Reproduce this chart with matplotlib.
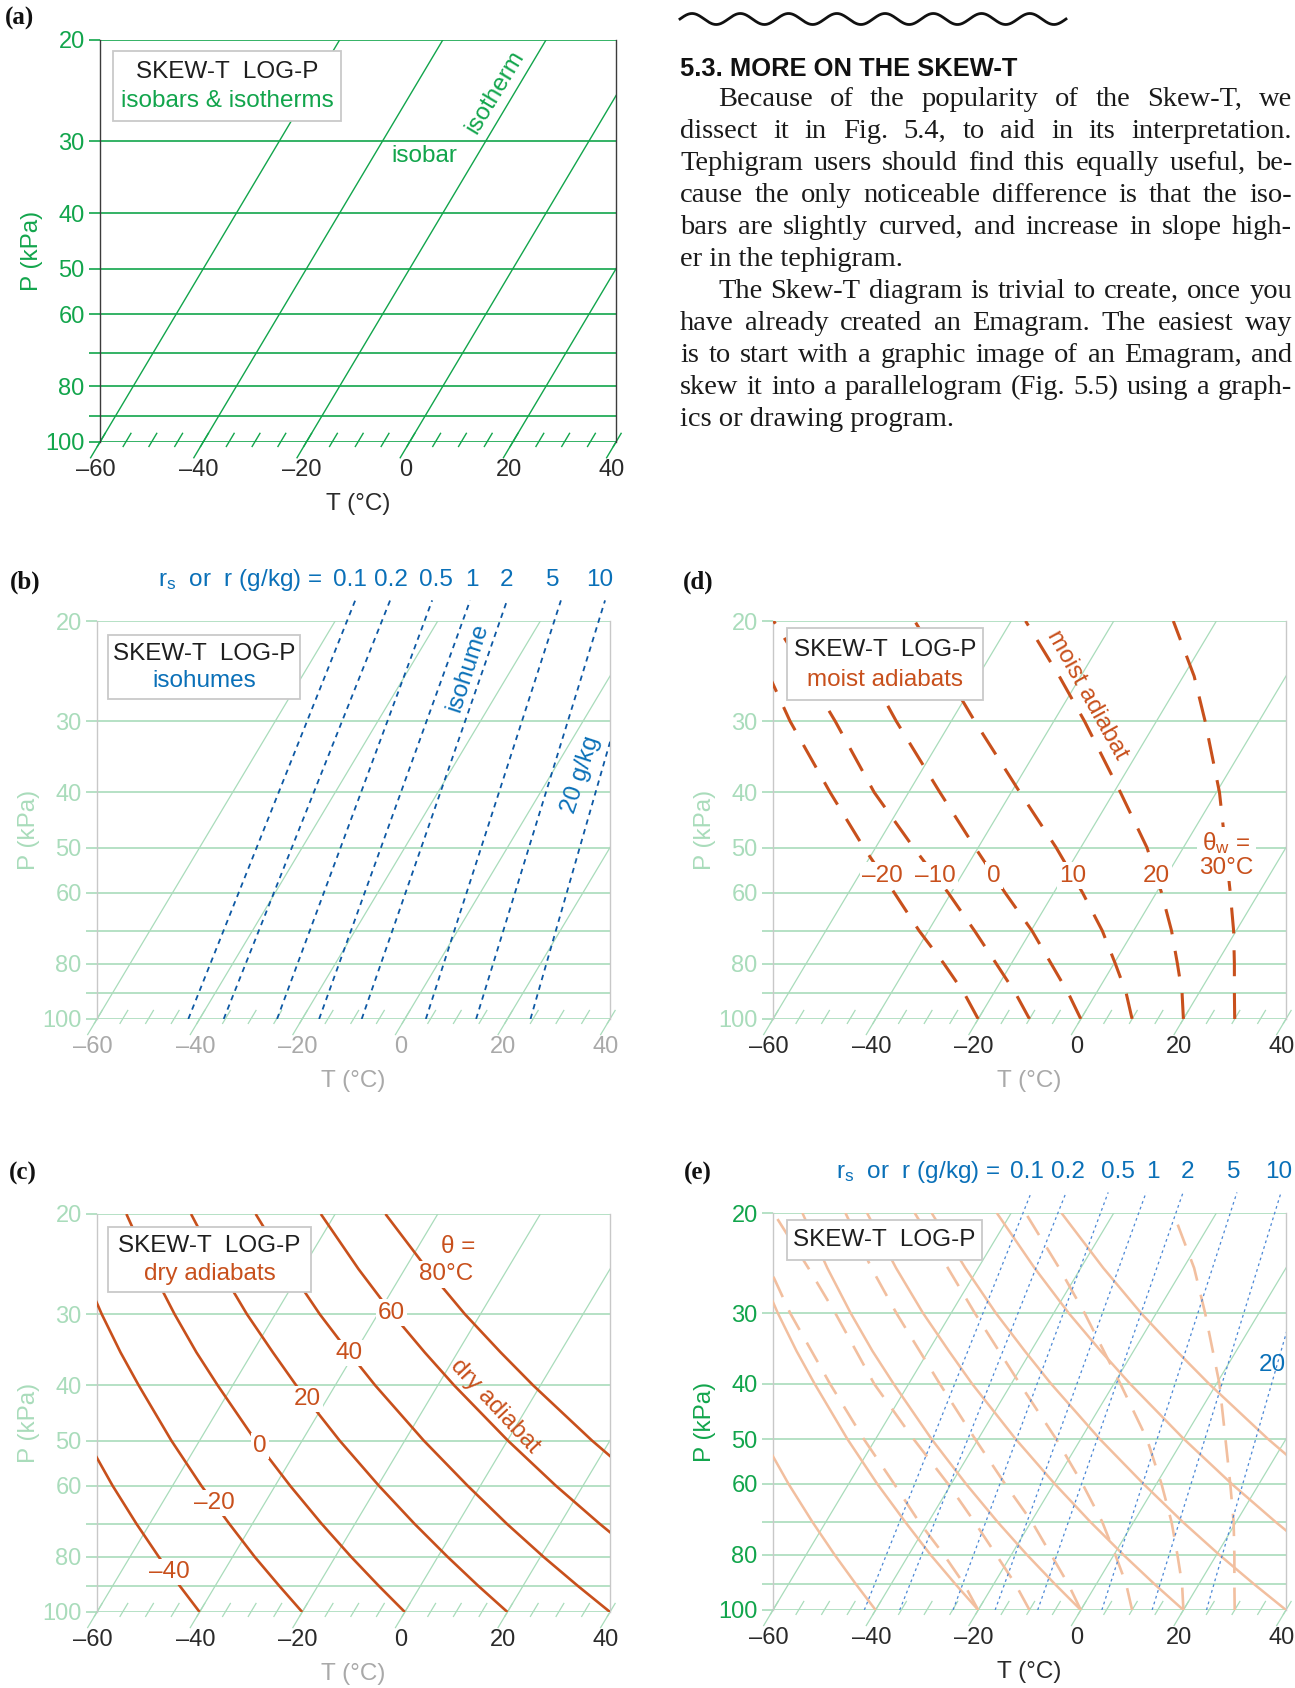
import numpy as np
import matplotlib
matplotlib.use("Agg")
import matplotlib.pyplot as plt
import matplotlib.transforms as mtransforms
from matplotlib.lines import Line2D
from matplotlib.patches import Rectangle
from matplotlib.ticker import NullLocator

plt.rcParams["font.family"] = ["Liberation Sans", "DejaVu Sans"]
plt.rcParams["mathtext.fontset"] = "custom"
plt.rcParams["mathtext.rm"] = "Liberation Sans"
plt.rcParams["mathtext.it"] = "Liberation Sans:italic"

W, H = 1295, 1688

# ---------------- values ----------------
isobars = [20, 30, 40, 50, 60, 70, 80, 90, 100]            # kPa
isobar_labels = ["20", "30", "40", "50", "60", "", "80", "", "100"]
isotherms = [-60, -40, -20, 0, 20, 40]                      # degC
isotherm_labels = ["–60", "–40", "–20", "0", "20", "40"]
tick_temps = [-60, -55, -50, -45, -40, -35, -30, -25, -20, -15, -10, -5,
              0, 5, 10, 15, 20, 25, 30, 35, 40]

# dry adiabats: T (degC) at each pressure level
dry_levels = [100, 90, 80, 70, 60, 50, 40, 35, 30, 25, 20]
dry_m40 = [-40.0, -46.9, -54.4, -62.6, -71.7, -81.9, -93.7, -100.5, -108.0, -116.3, -126.0]
dry_m20 = [-20.0, -27.5, -35.7, -44.5, -54.4, -65.5, -78.3, -85.7, -93.8, -102.9, -113.3]
dry_0 = [0.0, -8.1, -16.9, -26.5, -37.1, -49.1, -62.9, -70.9, -79.6, -89.4, -100.7]
dry_20 = [20.0, 11.3, 1.9, -8.4, -19.8, -32.7, -47.6, -56.0, -65.5, -76.0, -88.1]
dry_40 = [40.0, 30.7, 20.6, 9.6, -2.5, -16.3, -32.2, -41.2, -51.3, -62.5, -75.5]
dry_60 = [60.0, 50.1, 39.4, 27.7, 14.7, 0.1, -16.8, -26.4, -37.1, -49.0, -62.8]
dry_80 = [80.0, 69.5, 58.1, 45.8, 32.0, 16.5, -1.4, -11.6, -23.0, -35.6, -50.2]
dry_names = ["–40", "–20", "0", "20", "40", "60"]
dry_label_p = [85, 64.3, 51.1, 42.3, 35.1, 29.8]

# moist (pseudo) adiabats: T (degC) at each pressure level
moist_levels = [100, 90, 80, 70, 60, 50, 40, 30, 25, 20]
moist_m20 = [-20.0, -25.8, -33.1, -41.8, -51.1, -62.3, -75.3, -91.4, -100.7, -113.0]
moist_m10 = [-10.0, -15.8, -22.9, -31.0, -40.6, -52.6, -66.7, -82.6, -93.1, -106.3]
moist_0 = [0.0, -5.5, -12.2, -19.8, -29.5, -40.6, -53.9, -70.7, -80.8, -92.3]
moist_10 = [10.0, 5.8, 0.3, -6.1, -14.4, -24.8, -38.3, -55.4, -65.9, -78.8]
moist_20 = [20.0, 16.7, 12.4, 7.4, 1.0, -7.1, -18.7, -34.0, -44.2, -57.2]
moist_30 = [30.0, 26.9, 23.5, 19.5, 14.4, 8.2, 0.6, -10.5, -17.9, -28.4]
moist_names = ["–20", "–10", "0", "10", "20"]

# isohumes (saturation mixing ratio lines)
isohume_r = ["0.1", "0.2", "0.5", "1", "2", "5", "10", "20"]
isohume_t100 = [-42.2, -35.3, -24.9, -16.7, -8.4, 4.1, 13.9, 24.5]
isohume_ptop = 18.4
isohume_ttop = [-58.5, -51.7, -43.5, -36.1, -28.9, -18.4, -9.8, -0.9]

# header label nudges (points) so the labels do not collide
header_dx_b = [-4.0, 0.6, 2.9, 1.4, -0.2, -5.6, -4.1]
header_dx_e = [-3.3, 1.3, 6.8, 4.5, 2.9, -2.5, -1.7]

GREEN = "#12a54c"
LGREEN = "#a9dcbb"
ORANGE = "#c8501c"
SALMON = "#f2bf9f"
BLUE = "#0a70b8"
BLUE_LINE = "#0d58a4"
BLUE_DOT = "#4c88d6"
GRAY = "#a9a9a9"
DARK = "#2a2a2a"

SKEW = 0.4643   # isotherm shift over the whole height, as fraction of width
FS = 17.5
TFS = 17

fig = plt.figure(figsize=(W / 100, H / 100), dpi=100)


def fx(x):
    return x / W


def fy(y):
    return 1 - y / H


def skew_trans(ax):
    shear = mtransforms.Affine2D().skew(np.arctan(SKEW), 0)
    return ax.transScale + ax.transLimits + shear + ax.transAxes


def t_at(levels, temps, p):
    return np.interp(np.log(p), np.log(levels)[::-1], np.array(temps)[::-1])


def skew_panel(rect, grid, ylab, xlab, tlab, spine, bar_lw=1.2, iso_lw=0.9):
    left, top, right, bottom = rect
    ax = fig.add_axes([fx(left), fy(bottom), (right - left) / W, (bottom - top) / H])
    ax.set_yscale("log")
    ax.set_xlim(-60, 40)
    ax.set_ylim(100, 20)
    ax.set_autoscale_on(False)
    ax.set_facecolor("none")
    tr = skew_trans(ax)
    for p in isobars:
        ax.axhline(p, color=grid, lw=bar_lw, zorder=1)
    for t in isotherms:
        ax.plot([t, t], [100, 20], color=grid, lw=iso_lw, transform=tr, zorder=1)
    for t in tick_temps:
        ax.plot([t, t], [101.8, 96.6], color=grid, lw=iso_lw, transform=tr,
                clip_on=False, zorder=1)
    for t, lab in zip(isotherms, isotherm_labels):
        ax.plot([t, t], [106.5, 100], color=grid, lw=iso_lw, transform=tr,
                clip_on=False, zorder=1)
        ax.annotate(lab, xy=(t, 100), xycoords=tr, xytext=(-3, -12),
                    textcoords="offset points", ha="center", va="top",
                    fontsize=TFS, color=xlab)
    ax.set_yticks(isobars)
    ax.set_yticklabels(isobar_labels)
    ax.yaxis.set_minor_locator(NullLocator())
    ax.tick_params(axis="y", length=8, width=bar_lw, color=grid,
                   labelcolor=ylab, labelsize=TFS, pad=3)
    ax.set_xticks([])
    for s in ("top", "bottom"):
        ax.spines[s].set_visible(False)
    for s in ("left", "right"):
        ax.spines[s].set_color(spine)
        ax.spines[s].set_linewidth(1.0)
    wpx, hpx = right - left, bottom - top
    ax.text(0.5, -62 / hpx, "T (°C)", transform=ax.transAxes, ha="center",
            va="center", fontsize=FS, color=tlab)
    ax.text(-68 / wpx, 0.5 - 10 / hpx, "P (kPa)", transform=ax.transAxes,
            rotation=90, ha="center", va="center", fontsize=FS, color=ylab)
    return ax, tr


def title_box(x0, y0, x1, y1, line2=None, color=None):
    fig.add_artist(Rectangle((fx(x0), fy(y1)), (x1 - x0) / W, (y1 - y0) / H,
                             transform=fig.transFigure, fc="white", ec="#c9c9c9",
                             lw=1.3, zorder=5))
    xc = (x0 + x1) / 2
    if line2 is None:
        fig.text(fx(xc), fy((y0 + y1) / 2), "SKEW-T  LOG-P", ha="center",
                 va="center", fontsize=FS, color="#1e1e1e", zorder=6)
    else:
        fig.text(fx(xc), fy(y0 + (y1 - y0) * 0.30), "SKEW-T  LOG-P", ha="center",
                 va="center", fontsize=FS, color="#1e1e1e", zorder=6)
        fig.text(fx(xc), fy(y0 + (y1 - y0) * 0.72), line2, ha="center",
                 va="center", fontsize=FS, color=color, zorder=6)


def draw_dry(ax, tr, color, lw, labels):
    curves = [dry_m40, dry_m20, dry_0, dry_20, dry_40, dry_60, dry_80]
    for temps in curves:
        ax.plot(temps, dry_levels, color=color, lw=lw, transform=tr, zorder=3,
                solid_capstyle="butt")
    if labels:
        box = dict(fc="white", ec="none", pad=1.5)
        for temps, name, p in zip(curves, dry_names, dry_label_p):
            ax.text(t_at(dry_levels, temps, p), p, name, transform=tr, ha="center",
                    va="center", fontsize=FS, color=color, bbox=box, zorder=4)
        p80 = 25.4
        ax.annotate("80°C", xy=(t_at(dry_levels, dry_80, p80), p80), xycoords=tr,
                    xytext=(11, -1), textcoords="offset points", ha="center",
                    va="center", fontsize=FS, color=color, bbox=box, zorder=4)
        ax.annotate("θ =", xy=(t_at(dry_levels, dry_80, p80), p80), xycoords=tr,
                    xytext=(20, 19), textcoords="offset points", ha="center",
                    va="center", fontsize=FS, color=color, zorder=4)


def draw_moist(ax, tr, color, lw, labels):
    curves = [moist_m20, moist_m10, moist_0, moist_10, moist_20, moist_30]
    for temps in curves:
        ax.plot(temps, moist_levels, color=color, lw=lw, transform=tr, zorder=3,
                dashes=(8.5, 5.5), dash_capstyle="butt")
    if labels:
        box = dict(fc="white", ec="none", pad=1.5)
        for temps, name in zip(curves[:5], moist_names):
            ax.text(t_at(moist_levels, temps, 56), 56, name, transform=tr,
                    ha="center", va="center", fontsize=FS, color=color,
                    bbox=box, zorder=4)
        ax.text(t_at(moist_levels, moist_30, 51.5), 51.5,
                "θ$_{\\rm w}$ =\n30°C", transform=tr, ha="center", va="center",
                fontsize=FS, color=color, bbox=box, zorder=4, linespacing=1.05)


def draw_isohumes(ax, tr, color, lw, dashes):
    clip = Rectangle((0, 0), 1, 1.08, transform=ax.transAxes)
    for t0, t1 in zip(isohume_t100, isohume_ttop):
        ln, = ax.plot([t0, t1], [100, isohume_ptop], color=color, lw=lw,
                      transform=tr, zorder=3, dashes=dashes)
        ln.set_clip_path(clip)


def isohume_header(ax, tr, rx, nudges):
    for name, t, dx in zip(isohume_r[:7], isohume_ttop[:7], nudges):
        ax.annotate(name, xy=(t, isohume_ptop), xycoords=tr, xytext=(dx, 15),
                    textcoords="offset points", ha="center", va="center",
                    fontsize=FS, color=BLUE, annotation_clip=False)
    ax.annotate("r$_{\\rm s}$  or  r (g/kg) =", xy=(rx, isohume_ptop),
                xycoords=("figure fraction", tr), xytext=(0, 15),
                textcoords="offset points", ha="right", va="center",
                fontsize=FS, color=BLUE, annotation_clip=False)


# ---------------- panel (a) ----------------
ax_a, tr_a = skew_panel((100, 40, 616, 442), GREEN, GREEN, DARK, DARK, "#3c3c3c",
                        bar_lw=1.2, iso_lw=1.0)
title_box(113, 51, 341, 121, "isobars & isotherms", GREEN)
ax_a.text(0.766, 0.871, "isotherm", transform=ax_a.transAxes, rotation=59,
          ha="center", va="center", fontsize=FS, color=GREEN)
ax_a.text(0.628, 0.711, "isobar", transform=ax_a.transAxes, ha="center",
          va="center", fontsize=FS, color=GREEN)

# ---------------- panel (b) ----------------
ax_b, tr_b = skew_panel((97, 621, 610, 1019), LGREEN, LGREEN, GRAY, GRAY, "#c8c8c8")
draw_isohumes(ax_b, tr_b, BLUE_LINE, 1.3, (3.0, 2.6))
isohume_header(ax_b, tr_b, fx(322), header_dx_b)
title_box(108, 635, 300, 699, "isohumes", BLUE)
ax_b.text(0.723, 0.884, "isohume", transform=ax_b.transAxes, rotation=72,
          ha="center", va="center", fontsize=FS, color=BLUE)
ax_b.text(0.943, 0.613, "20 g/kg", transform=ax_b.transAxes, rotation=72,
          ha="center", va="center", fontsize=FS, color=BLUE)

# ---------------- panel (c) ----------------
ax_c, tr_c = skew_panel((97, 1214, 610, 1612), LGREEN, LGREEN, DARK, GRAY, "#c8c8c8")
draw_dry(ax_c, tr_c, ORANGE, 1.9, True)
title_box(108, 1227, 311, 1292, "dry adiabats", ORANGE)
ax_c.text(0.776, 0.518, "dry adiabat", transform=ax_c.transAxes, rotation=-47,
          ha="center", va="center", fontsize=FS, color=ORANGE)

# ---------------- panel (d) ----------------
ax_d, tr_d = skew_panel((773, 621, 1286, 1019), LGREEN, LGREEN, DARK, GRAY, "#c8c8c8")
draw_moist(ax_d, tr_d, ORANGE, 2.2, True)
title_box(787, 628, 983, 700, "moist adiabats", ORANGE)
ax_d.text(0.612, 0.814, "moist adiabat", transform=ax_d.transAxes, rotation=-61,
          ha="center", va="center", fontsize=FS, color=ORANGE)

# ---------------- panel (e) ----------------
ax_e, tr_e = skew_panel((773, 1213, 1286, 1610), LGREEN, GREEN, DARK, DARK, "#c8c8c8")
draw_dry(ax_e, tr_e, SALMON, 1.8, False)
draw_moist(ax_e, tr_e, SALMON, 1.9, False)
draw_isohumes(ax_e, tr_e, BLUE_DOT, 0.9, (2.2, 2.6))
isohume_header(ax_e, tr_e, fx(1000), header_dx_e)
title_box(787, 1220, 982, 1260)
ax_e.text(0.973, 0.617, "20", transform=ax_e.transAxes, ha="center",
          va="center", fontsize=FS, color=BLUE)

# ---------------- panel letters ----------------
for lab, x, y in [("(a)", 19, 18), ("(b)", 25, 582), ("(c)", 23, 1173),
                  ("(d)", 698, 582), ("(e)", 698, 1173)]:
    fig.text(fx(x), fy(y), lab, ha="center", va="center", fontsize=18,
             family="Liberation Serif", weight="bold", color="#111111")

# ---------------- text column ----------------
renderer = fig.canvas.get_renderer()


def text_w(s, **kw):
    t = fig.text(0, 0, s, **kw)
    w = t.get_window_extent(renderer=renderer).width
    t.remove()
    return w


wave_x = np.linspace(680, 1066, 500)
wave_y = 19 - 5.5 * np.sin((wave_x - 680) / 386 * 8 * 2 * np.pi)
fig.add_artist(Line2D(fx(wave_x), fy(wave_y), transform=fig.transFigure,
                      color="#111111", lw=2.0))

head_kw = dict(family=["Liberation Sans Narrow", "Liberation Sans"], weight="bold",
               color="#111111")
heading = "5.3. MORE ON THE SKEW-T"
head_size = 22 * 337 / text_w(heading, fontsize=22, **head_kw)
fig.text(fx(680), fy(76), heading, ha="left", va="baseline",
         fontsize=head_size, **head_kw)

body = [
    ("Because of the popularity of the Skew-T, we", True, True),
    ("dissect it in Fig. 5.4, to aid in its interpretation.", False, True),
    ("Tephigram users should find this equally useful, be-", False, True),
    ("cause the only noticeable difference is that the iso-", False, True),
    ("bars are slightly curved, and increase in slope high-", False, True),
    ("er in the tephigram.", False, False),
    ("The Skew-T diagram is trivial to create, once you", True, True),
    ("have already created an Emagram.  The easiest way", False, True),
    ("is to start with a graphic image of an Emagram, and", False, True),
    ("skew it into a parallelogram (Fig. 5.5) using a graph-", False, True),
    ("ics or drawing program.", False, False),
]
body_kw = dict(family="Liberation Serif", color="#1a1a1a")
X0, X1, INDENT = 680, 1292, 38
scale = min((X1 - X0 - (INDENT if ind else 0)) / text_w(s, fontsize=20, **body_kw)
            for s, ind, just in body if just)
body_size = min(20 * scale, 20.5)

for i, (line, ind, just) in enumerate(body):
    base = 106 + 32 * i
    x = X0 + (INDENT if ind else 0)
    if not just:
        fig.text(fx(x), fy(base), line, ha="left", va="baseline",
                 fontsize=body_size, **body_kw)
        continue
    words = line.split()
    widths = [text_w(w, fontsize=body_size, **body_kw) for w in words]
    gap = (X1 - x - sum(widths)) / (len(words) - 1)
    for w, wd in zip(words, widths):
        fig.text(fx(x), fy(base), w, ha="left", va="baseline",
                 fontsize=body_size, **body_kw)
        x += wd + gap

fig.savefig("out.png", dpi=100)
